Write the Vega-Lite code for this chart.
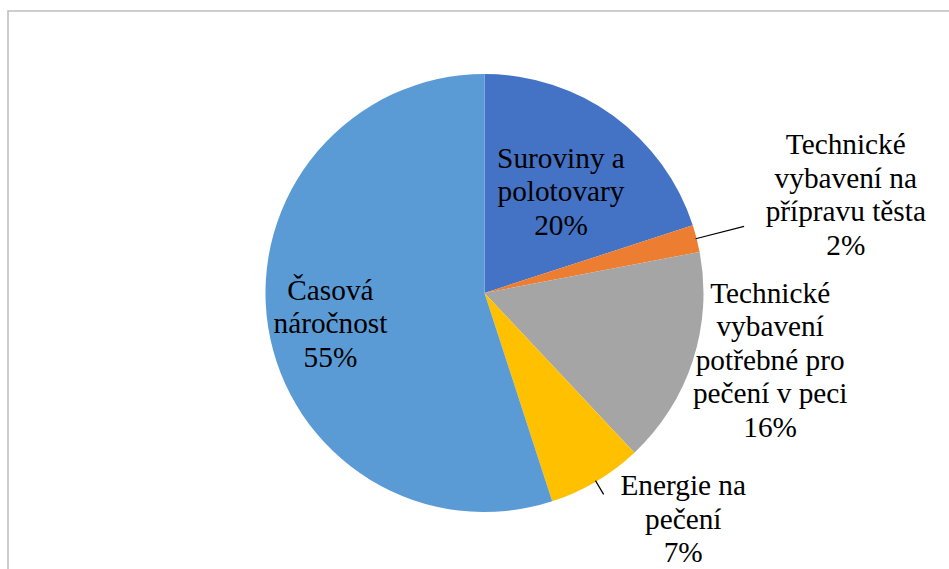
{
  "$schema": "https://vega.github.io/schema/vega-lite/v6.json",
  "width": 953,
  "height": 564,
  "autosize": {"type": "none"},
  "padding": {"left": 8, "top": 11, "right": -12, "bottom": -6},
  "background": "white",
  "config": {"view": {"stroke": null}, "font": "Liberation Serif"},
  "data": {
    "values": [
      {"idx": 1, "name": "Suroviny a\npolotovary", "value": 20},
      {"idx": 2, "name": "Technické\nvybavení na\npřípravu těsta", "value": 2},
      {"idx": 3, "name": "Technické\nvybavení\npotřebné pro\npečení v peci", "value": 16},
      {"idx": 4, "name": "Energie na\npečení", "value": 7},
      {"idx": 5, "name": "Časová\nnáročnost", "value": 55}
    ]
  },
  "transform": [
    {"window": [{"op": "sum", "field": "value", "as": "cum"}], "sort": [{"field": "idx"}], "frame": [null, 0]},
    {"calculate": "datum.cum - datum.value / 2", "as": "mid"},
    {"calculate": "datum.name + '\\n' + datum.value + '%'", "as": "text"}
  ],
  "layer": [
    {
      "transform": [{"filter": "datum.idx == 1"}],
      "mark": {"type": "rect", "filled": false, "stroke": "#BFBFBF", "strokeWidth": 1.6},
      "encoding": {
        "x": {"value": 0},
        "y": {"value": 0},
        "x2": {"value": {"expr": "width + 40"}},
        "y2": {"value": {"expr": "height + 40"}}
      }
    },
    {
      "mark": {"type": "arc", "outerRadius": 219},
      "encoding": {
        "theta": {"field": "value", "type": "quantitative", "stack": true, "scale": {"domain": [0, 100]}},
        "order": {"field": "idx", "type": "quantitative"},
        "color": {"field": "idx", "type": "nominal", "scale": {"domain": [1, 2, 3, 4, 5], "range": ["#4472C4", "#ED7D31", "#A5A5A5", "#FFC000", "#5B9BD5"]}, "legend": null}
      }
    },
    {
      "transform": [{"filter": "datum.idx == 2"}],
      "mark": {"type": "arc", "filled": false, "color": "black", "strokeWidth": 1.2, "radius": 268, "radius2": 218},
      "encoding": {
        "theta": {"field": "mid", "type": "quantitative", "stack": null, "scale": {"domain": [0, 100]}},
        "theta2": {"field": "mid"}
      }
    },
    {
      "transform": [{"filter": "datum.idx == 4"}],
      "mark": {"type": "arc", "filled": false, "color": "black", "strokeWidth": 1.2, "radius": 234, "radius2": 218},
      "encoding": {
        "theta": {"field": "mid", "type": "quantitative", "stack": null, "scale": {"domain": [0, 100]}},
        "theta2": {"field": "mid"}
      }
    },
    {
      "transform": [{"filter": "datum.idx == 1"}],
      "mark": {"type": "text", "font": "Liberation Serif", "radius": 125, "dx": 3, "dy": -33, "fontSize": 29.3, "lineBreak": "\n", "lineHeight": 33.6, "align": "center", "baseline": "middle", "color": "black"},
      "encoding": {
        "theta": {"field": "mid", "type": "quantitative", "stack": null, "scale": {"domain": [0, 100]}},
        "text": {"field": "text"}
      }
    },
    {
      "transform": [{"filter": "datum.idx == 2"}],
      "mark": {"type": "text", "font": "Liberation Serif", "radius": 373, "dx": 0, "dy": -55, "fontSize": 29.3, "lineBreak": "\n", "lineHeight": 33.6, "align": "center", "baseline": "middle", "color": "black"},
      "encoding": {
        "theta": {"field": "mid", "type": "quantitative", "stack": null, "scale": {"domain": [0, 100]}},
        "text": {"field": "text"}
      }
    },
    {
      "transform": [{"filter": "datum.idx == 3"}],
      "mark": {"type": "text", "font": "Liberation Serif", "radius": 293, "dx": 7, "dy": -90, "fontSize": 29.3, "lineBreak": "\n", "lineHeight": 33.6, "align": "center", "baseline": "middle", "color": "black"},
      "encoding": {
        "theta": {"field": "mid", "type": "quantitative", "stack": null, "scale": {"domain": [0, 100]}},
        "text": {"field": "text"}
      }
    },
    {
      "transform": [{"filter": "datum.idx == 4"}],
      "mark": {"type": "text", "font": "Liberation Serif", "radius": 302, "dx": 45, "dy": -67, "fontSize": 29.3, "lineBreak": "\n", "lineHeight": 33.6, "align": "center", "baseline": "middle", "color": "black"},
      "encoding": {
        "theta": {"field": "mid", "type": "quantitative", "stack": null, "scale": {"domain": [0, 100]}},
        "text": {"field": "text"}
      }
    },
    {
      "transform": [{"filter": "datum.idx == 5"}],
      "mark": {"type": "text", "font": "Liberation Serif", "radius": 158, "dx": 2, "dy": -27, "fontSize": 29.3, "lineBreak": "\n", "lineHeight": 33.6, "align": "center", "baseline": "middle", "color": "black"},
      "encoding": {
        "theta": {"field": "mid", "type": "quantitative", "stack": null, "scale": {"domain": [0, 100]}},
        "text": {"field": "text"}
      }
    }
  ]
}
